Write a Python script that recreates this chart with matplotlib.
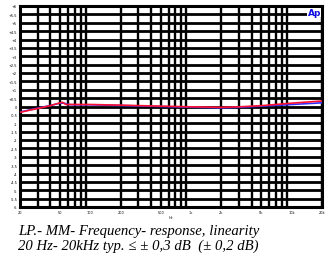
import matplotlib.pyplot as plt
import numpy as np

# frequency response
freq_red = [20, 25, 30, 40, 50, 53, 57, 70, 100, 200, 500, 1000, 2000, 3000, 5000, 10000, 20000]
db_red = [-0.35, -0.22, -0.12, 0.05, 0.22, 0.25, 0.12, 0.12, 0.12, 0.08, 0.02, -0.02, -0.05, -0.02, 0.05, 0.2, 0.33]
freq_blue = [20, 25, 30, 40, 50, 55, 60, 70, 100, 200, 500, 1000, 2000, 3000, 5000, 10000, 20000]
db_blue = [-0.33, -0.2, -0.1, 0.06, 0.2, 0.2, 0.12, 0.1, 0.1, 0.06, 0.0, -0.04, -0.08, -0.05, 0.02, 0.12, 0.22]

xticks = [20, 50, 100, 200, 500, 1000, 2000, 5000, 10000, 20000]
xtick_labels = ["20", "50", "100", "200", "500", "1k", "2k", "5k", "10k", "20k"]
ygrid = np.arange(-6, 6.01, 0.5)
ytick_labels = [("+" if v > 0 else "") + ("%g" % v) for v in ygrid]
grid_freqs = [f * m for m in (10, 100, 1000) for f in range(2, 10)] + [20000]
grid_freqs = [f for f in grid_freqs if 20 <= f <= 20000]

fig = plt.figure(figsize=(3.28, 2.55), dpi=100)
ax = fig.add_axes([20 / 328, 1 - 208 / 255, 302 / 328, 201 / 255])
ax.set_xscale("log")
ax.set_xlim(20, 20000)
ax.set_ylim(-6, 6)

for f in grid_freqs:
    ax.axvline(f, color="black", lw=1.7, zorder=1)
for v in ygrid:
    ax.axhline(v, color="black", lw=2.0, zorder=1)

ax.plot(freq_blue, db_blue, color="#3030ff", lw=1.2, zorder=3)
ax.plot(freq_red, db_red, color="#ff1030", lw=1.2, zorder=4)

for s in ax.spines.values():
    s.set_linewidth(2.2)

ax.set_xticks(xticks)
ax.set_xticklabels(xtick_labels)
ax.minorticks_off()
ax.set_yticks(ygrid)
ax.set_yticklabels(ytick_labels)
ax.tick_params(length=0, labelsize=2.5, pad=2)
ax.set_xlabel("Hz", fontsize=2.5, labelpad=1)

ax.text(0.997, 0.99, "Ap", transform=ax.transAxes, ha="right", va="top",
        color="#1010e0", fontsize=6.5, fontweight="bold", zorder=5,
        bbox=dict(facecolor="white", edgecolor="none", pad=0.2))

fig.text(18 / 328, 1 - 232 / 255, "LP.- MM- Frequency- response, linearity",
         family="Liberation Serif", style="italic", fontsize=10.6, va="center")
fig.text(18 / 328, 1 - 246 / 255, "20 Hz- 20kHz typ. \u2264 \u00b1 0,3 dB  (\u00b1 0,2 dB)",
         family="Liberation Serif", style="italic", fontsize=10.6, va="center")

plt.savefig("out.png", dpi=100)
plt.close()
